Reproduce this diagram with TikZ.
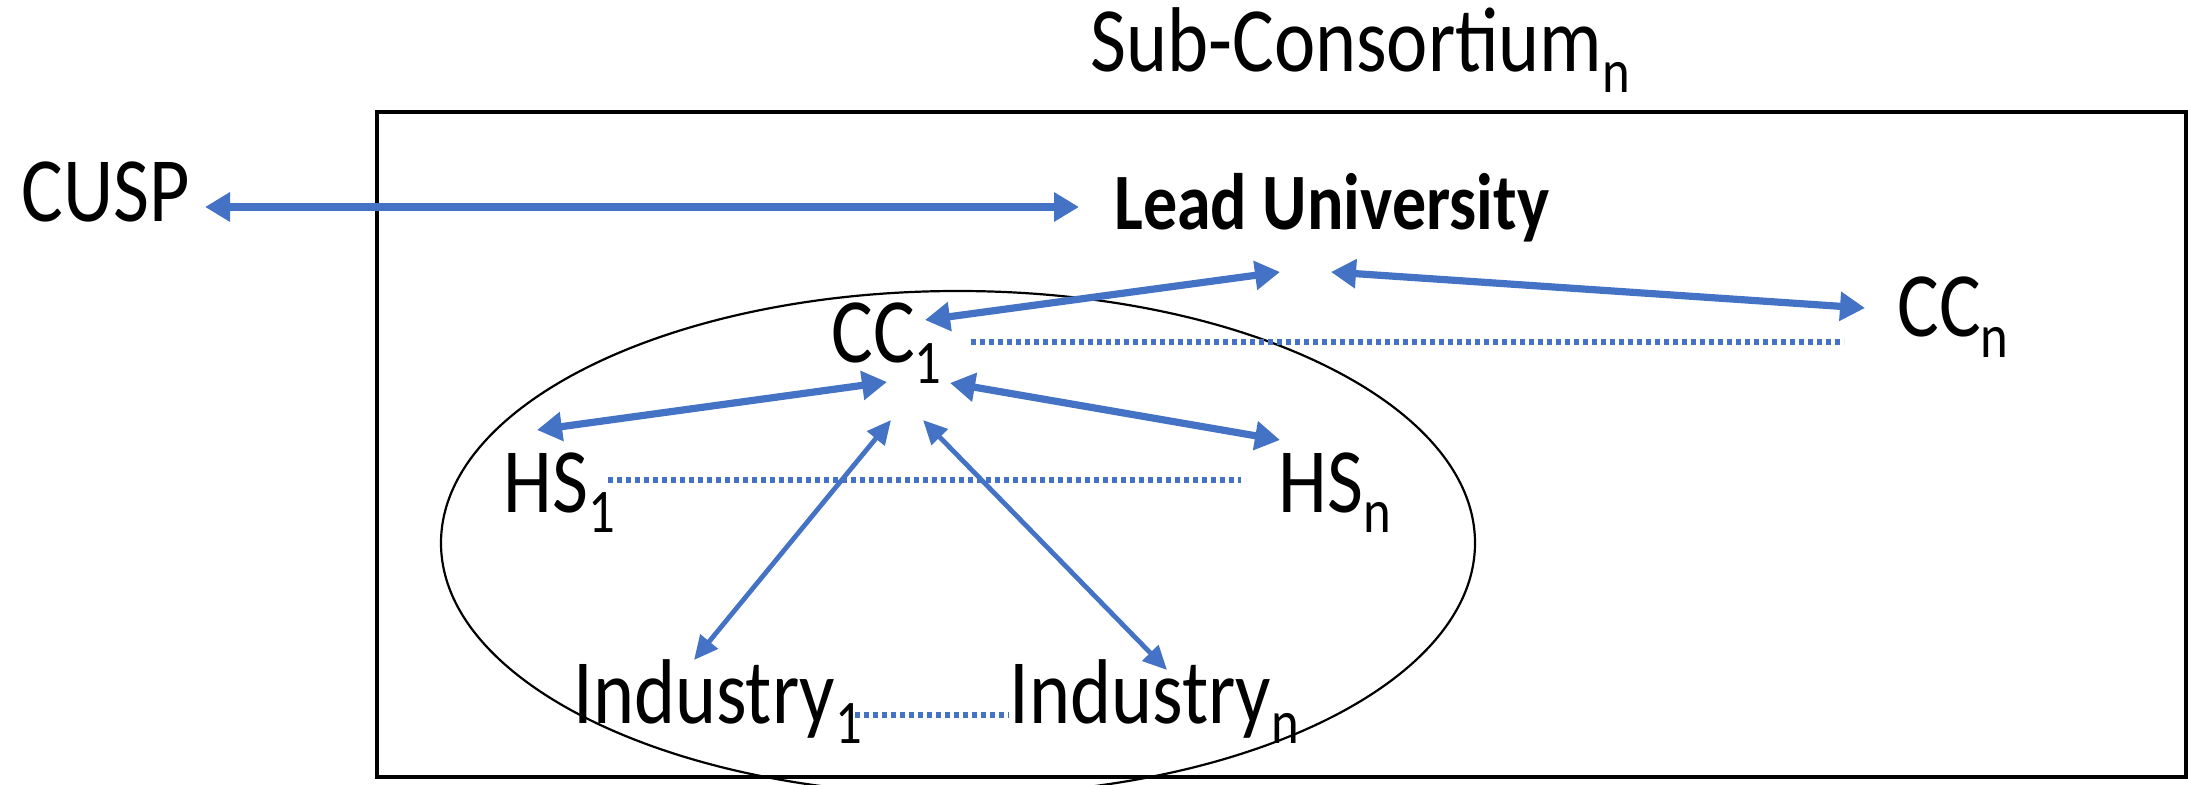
\documentclass[tikz,border=0pt]{standalone}
\usepackage{fontspec}
\setmainfont{Carlito}[FakeStretch=0.85]
\usepackage{graphicx}
\usetikzlibrary{arrows.meta}
\definecolor{ablue}{HTML}{4472C4}
\newcommand\lowsub[1]{\raisebox{-0.22em}{\fontsize{31}{31}\selectfont #1}}
\begin{document}
\begin{tikzpicture}[x=0.5pt,y=-0.5pt,
  lbl/.style={inner sep=0pt, anchor=base west, font=\fontsize{46}{50}\selectfont},
  link/.style={ablue, line width=3.6pt, {Triangle[length=12.5pt,width=14pt]}-{Triangle[length=12.5pt,width=14pt]}},
  thinlink/.style={ablue, line width=2.4pt, {Triangle[length=12pt,width=11pt]}-{Triangle[length=12pt,width=11pt]}},
  dots/.style={ablue, line width=3.2pt, dash pattern=on 2.25pt off 2.25pt}]
\useasboundingbox (0,0) rectangle (2188,785);
\draw[line width=1.8pt] (377,112) rectangle (2186,777);
\draw[line width=1.1pt] (958,543) ellipse [x radius=517, y radius=252];
\node[lbl] (title) at (1090,72) {Sub-Consortium\lowsub{n}};
\node[lbl] (cusp) at (21,222) {CUSP};
\node[lbl, font={\fontsize{40}{44}\selectfont\bfseries}] (lead) at (1114,230) {Lead University};
\node[lbl] (cc1) at (831,363) {CC\lowsub{1}};
\node[lbl] (ccn) at (1897,337) {CC\lowsub{n}};
\node[lbl] (hs1) at (503,512) {HS\lowsub{1}};
\node[lbl] (hsn) at (1278,512) {HS\lowsub{n}};
\node[lbl] (ind1) at (573,723) {Industry\lowsub{1}};
\node[lbl] (indn) at (1009,723) {Industry\lowsub{n}};
\coordinate (pCusp) at (205,207);
\coordinate (pLeadW) at (1079,207);
\coordinate (pCCup) at (925,320);
\coordinate (pLeadL) at (1280,272);
\coordinate (pLeadR) at (1331,272);
\coordinate (pCCn) at (1865,308);
\coordinate (pHSa) at (537,430);
\coordinate (pCChl) at (887,382);
\coordinate (pCChr) at (950,383);
\coordinate (pHSn) at (1280,440);
\coordinate (pInda) at (694,660);
\coordinate (pCCil) at (891,420);
\coordinate (pCCir) at (923,420);
\coordinate (pIndn) at (1167,670);
\coordinate (dCCa) at (971,342);
\coordinate (dCCb) at (1844,342);
\coordinate (dHSa) at (608,480);
\coordinate (dHSb) at (1241,480);
\coordinate (dIna) at (855,715);
\coordinate (dInb) at (1009,715);
\draw[link] (pCusp) -- (pLeadW);
\draw[link] (pCCup) -- (pLeadL);
\draw[link] (pLeadR) -- (pCCn);
\draw[link] (pHSa) -- (pCChl);
\draw[link] (pCChr) -- (pHSn);
\draw[thinlink] (pInda) -- (pCCil);
\draw[thinlink] (pCCir) -- (pIndn);
\draw[dots] (dCCa) -- (dCCb);
\draw[dots] (dHSa) -- (dHSb);
\draw[dots] (dIna) -- (dInb);
\end{tikzpicture}
\end{document}
